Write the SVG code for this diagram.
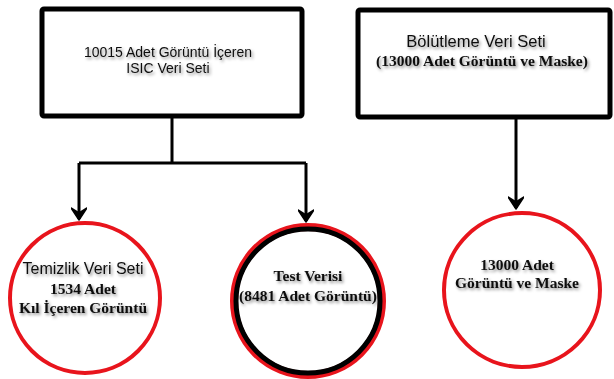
<svg xmlns="http://www.w3.org/2000/svg" width="614" height="379" viewBox="0 0 614 379">
<style>
.box{fill:#fff;stroke:#000;stroke-width:5;}
.circ{fill:#fff;stroke:#e8141c;stroke-width:4;}
.sans{font-family:"Liberation Sans",Arial,sans-serif;fill:#111;text-anchor:middle;}
.serif{font-family:"Liberation Serif","Times New Roman",serif;font-weight:bold;fill:#111;text-anchor:middle;font-size:15.5px;}
.conn{fill:none;stroke:#000;stroke-width:3;}
</style>
<defs>
<filter id="sh" x="-20%" y="-50%" width="140%" height="200%">
<feDropShadow dx="1.5" dy="2" stdDeviation="1.5" flood-color="#000" flood-opacity="0.45"/>
</filter>
<marker id="ah" viewBox="0 0 14 16" refX="12" refY="8" markerWidth="14" markerHeight="16" markerUnits="userSpaceOnUse" orient="auto">
<path d="M1,0 L13,8 L1,16 L6,8 Z" fill="#000" stroke="#000" stroke-width="1.5" stroke-linejoin="round"/>
</marker>
</defs>
<rect width="614" height="379" fill="#fff"/>
<g id="connectors">
<path class="conn" d="M172,117 V163 M79,163 H306 M79,163 V219" marker-end="url(#ah)"/>
<path class="conn" d="M306,163 V221" marker-end="url(#ah)"/>
<path class="conn" d="M516,117 V208" marker-end="url(#ah)"/>
</g>
<g id="isic">
<rect class="box" x="42" y="9" width="260" height="107" rx="2"/>
<g filter="url(#sh)">
<text class="sans" x="168" y="57" font-size="14">10015 Adet Görüntü İçeren</text>
<text class="sans" x="168" y="73" font-size="14">ISIC Veri Seti</text>
</g>
</g>
<g id="bolutleme">
<rect class="box" x="358" y="10" width="252" height="107" rx="2"/>
<g filter="url(#sh)">
<text class="sans" x="476" y="47" font-size="16.5">Bölütleme Veri Seti</text>
<text class="serif" x="482" y="66">(13000 Adet Görüntü ve Maske)</text>
</g>
</g>
<g id="temizlik">
<circle class="circ" cx="85" cy="298" r="75"/>
<g filter="url(#sh)">
<text class="sans" x="83" y="274" font-size="16">Temizlik Veri Seti</text>
<text class="serif" x="83" y="294">1534 Adet</text>
<text class="serif" x="83" y="313">Kıl İçeren Görüntü</text>
</g>
</g>
<g id="test">
<circle cx="308" cy="301" r="74" fill="#fff" stroke="#e8141c" stroke-width="8"/>
<circle cx="308" cy="301" r="72" fill="none" stroke="#000" stroke-width="5"/>
<g filter="url(#sh)">
<text class="serif" x="308" y="281">Test Verisi</text>
<text class="serif" x="308" y="301">(8481 Adet Görüntü)</text>
</g>
</g>
<g id="maske">
<ellipse class="circ" cx="522" cy="290" rx="78" ry="77"/>
<g filter="url(#sh)">
<text class="serif" x="517" y="270">13000 Adet</text>
<text class="serif" x="517" y="288">Görüntü ve Maske</text>
</g>
</g>
</svg>
